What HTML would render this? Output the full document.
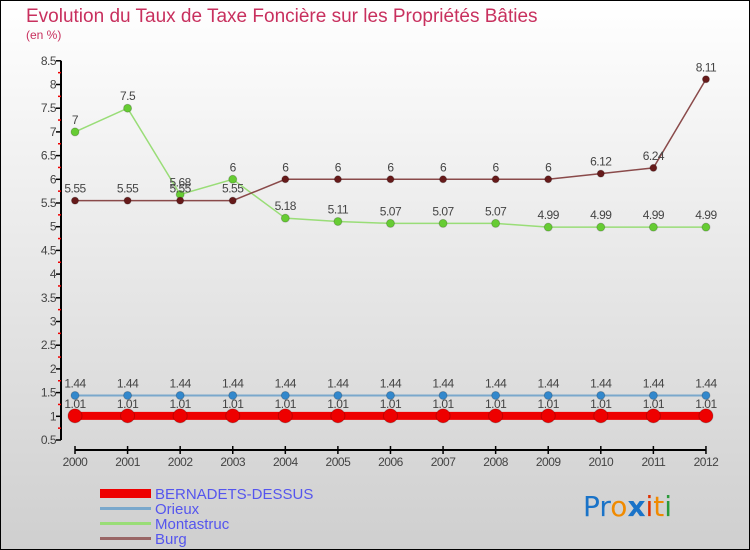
<!DOCTYPE html>
<html><head><meta charset="utf-8"><style>
body{margin:0;width:750px;height:550px;overflow:hidden;font-family:"Liberation Sans",sans-serif}
#wrap{position:absolute;left:0;top:0;width:748px;height:548px;border:1px solid #000;background:linear-gradient(#ffffff,#cfcfcf)}
</style></head><body>
<div id="wrap">
<svg id="chart" width="750" height="550" style="position:absolute;left:-1px;top:-1px">
<text x="26" y="22" font-size="19" fill="#c8305e">Evolution du Taux de Taxe Foncière sur les Propriétés Bâties</text>
<text x="26" y="39" font-size="12" fill="#c8305e">(en %)</text>
<g id="axes"></g><g id="series"></g>
<g>
<rect x="100" y="489" width="51" height="9" fill="#e00"/>
<text x="155" y="499" font-size="15" fill="#5555ee">BERNADETS-DESSUS</text>
<rect x="100" y="507" width="51" height="3" fill="#7aa8cc"/>
<text x="155" y="514" font-size="15" fill="#5555ee">Orieux</text>
<rect x="100" y="522" width="51" height="3" fill="#99dd77"/>
<text x="155" y="529" font-size="15" fill="#5555ee">Montastruc</text>
<rect x="100" y="537" width="51" height="3" fill="#996666"/>
<text x="155" y="544" font-size="15" fill="#5555ee">Burg</text>
</g>
<g font-size="28" font-family="'DejaVu Sans',sans-serif">
<text x="583" y="516"><tspan fill="#1a73c8">Pr</tspan><tspan fill="#f08a00">o</tspan><tspan fill="#1a73c8" font-weight="bold">x</tspan><tspan fill="#e03000">i</tspan><tspan fill="#f08a00">t</tspan><tspan fill="#2a9a3a">i</tspan></text>
</g>
</svg></div>
<script>
const years=[2000,2001,2002,2003,2004,2005,2006,2007,2008,2009,2010,2011,2012];
const bernadets=[1.01,1.01,1.01,1.01,1.01,1.01,1.01,1.01,1.01,1.01,1.01,1.01,1.01];
const orieux=[1.44,1.44,1.44,1.44,1.44,1.44,1.44,1.44,1.44,1.44,1.44,1.44,1.44];
const montastruc=[7,7.5,5.68,6,5.18,5.11,5.07,5.07,5.07,4.99,4.99,4.99,4.99];
const burg=[5.55,5.55,5.55,5.55,6,6,6,6,6,6,6.12,6.24,8.11];
const yTicks=[0.5,1,1.5,2,2.5,3,3.5,4,4.5,5,5.5,6,6.5,7,7.5,8,8.5];
const NS='http://www.w3.org/2000/svg';
const X=i=>75+i*52.58, Y=v=>440-(v-0.5)*47.4;
function mk(t,a,p){const e=document.createElementNS(NS,t);for(const k in a)e.setAttribute(k,a[k]);p.appendChild(e);return e;}
const ax=document.getElementById('axes'), sg=document.getElementById('series');
let l=mk('line',{x1:61,y1:Y(8.5),x2:61,y2:Y(0.5),stroke:'#000','stroke-width':2},ax);

yTicks.forEach((v,i)=>{
 mk('line',{x1:56,x2:61,y1:Y(v),y2:Y(v),stroke:'#000','stroke-width':1.5},ax);
 if(i<yTicks.length-1) mk('line',{x1:58,x2:61,y1:Y(v+0.25),y2:Y(v+0.25),stroke:'#e00','stroke-width':1.5},ax);
 const t=mk('text',{x:56,y:Y(v)+4,'text-anchor':'end','font-size':12,fill:'#444','letter-spacing':'-0.5'},ax);
 t.textContent=v;
 
});
l=mk('line',{x1:X(0),x2:X(12),y1:450,y2:450,stroke:'#000','stroke-width':2},ax);

years.forEach((y,i)=>{
 mk('line',{x1:X(i),x2:X(i),y1:446,y2:454,stroke:'#000','stroke-width':1.5},ax);
 const t=mk('text',{x:X(i),y:466,'text-anchor':'middle','font-size':12,fill:'#444','letter-spacing':'-0.5'},ax);
 t.textContent=y;
 
});
function series(name,vals,color,w,r,mcol){
 const g=mk('g',{},sg);
 
 const p=mk('polyline',{points:vals.map((v,i)=>X(i)+','+Y(v)).join(' '),fill:'none',stroke:color,'stroke-width':w},g);
 
 vals.forEach((v,i)=>{
  const c=mk('circle',{cx:X(i),cy:Y(v),r:r,fill:mcol,stroke:'rgba(0,0,0,0.2)'},g);
  
  const t=mk('text',{x:X(i),y:Y(v)-8,'text-anchor':'middle','font-size':12,fill:'#444','letter-spacing':'-0.5'},g);
  t.textContent=v;
  
 });
}
series('orieux',orieux,'#7aa8cc',2,4,'#3388cc');
series('montastruc',montastruc,'#99dd77',1.5,4,'#66cc33');
series('burg',burg,'#8a4a4a',1.5,3.5,'#661a1a');
series('bernadets',bernadets,'#ee0000',8,7,'#ee0000');
</script>
</body></html>
